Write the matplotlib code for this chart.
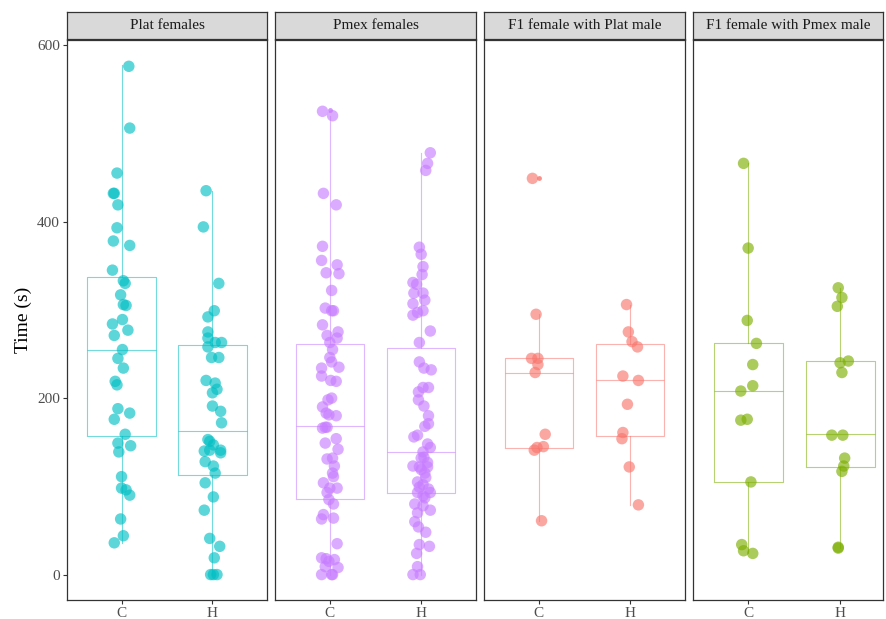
import numpy as np
import matplotlib.pyplot as plt

plt.rcParams['font.family'] = ['Liberation Serif', 'DejaVu Serif']

panels = ["Plat females", "Pmex females", "F1 female with Plat male", "F1 female with Pmex male"]
colors = ["#00BFC4", "#C77CFF", "#F8766D", "#7CAE00"]
treatments = ["C", "H"]

# time (s) per female, with the jitter offset of each point
plat_c = [576, 506, 455, 432, 432, 419, 393, 378, 373, 345, 333, 330, 317, 306, 305, 289, 284,
          277, 271, 255, 245, 234, 219, 215, 188, 183, 176, 159, 149, 146, 139, 111, 98, 96, 90,
          63, 44, 36]
plat_c_jit = [0.08, 0.09, -0.05, -0.09, -0.08, -0.04, -0.05, -0.09, 0.09, -0.10, 0.02, 0.04,
              -0.01, 0.02, 0.05, 0.01, -0.10, 0.07, -0.08, 0.01, -0.04, 0.02, -0.07, -0.05, -0.04,
              0.09, -0.08, 0.04, -0.04, 0.10, -0.03, 0.0, 0.0, 0.05, 0.09, -0.01, 0.02, -0.08]
plat_h = [435, 394, 330, 299, 292, 275, 268, 263, 263, 258, 246, 246, 220, 217, 210, 206, 191,
          185, 172, 153, 151, 147, 141, 140, 141, 138, 128, 123, 115, 104, 88, 73, 41, 32, 19,
          0, 0, 0]
plat_h_jit = [-0.07, -0.10, 0.07, 0.02, -0.05, -0.05, -0.05, 0.03, 0.10, -0.05, -0.01, 0.07,
              -0.07, 0.03, 0.05, 0.0, 0.0, 0.09, 0.10, -0.05, -0.03, 0.01, -0.03, -0.09, 0.09,
              0.09, -0.08, 0.01, 0.03, -0.08, 0.01, -0.09, -0.03, 0.08, 0.02, -0.02, 0.01, 0.05]

pmex_c = [525, 520, 432, 419, 372, 356, 351, 342, 341, 322, 302, 299, 299, 283, 271, 275, 268,
          263, 255, 246, 241, 234, 235, 225, 220, 219, 200, 198, 190, 183, 181, 180, 167, 167,
          166, 149, 154, 142, 131, 132, 123, 115, 111, 104, 98, 98, 93, 85, 80, 68, 63, 64, 35,
          19, 18, 15, 17, 9, 8, 0, 0, 0]
pmex_c_jit = [-0.08, 0.03, -0.07, 0.07, -0.08, -0.09, 0.08, -0.04, 0.10, 0.02, -0.05, 0.02,
              0.04, -0.08, -0.03, 0.09, 0.08, 0.0, 0.03, 0.0, 0.02, -0.09, 0.10, -0.09, 0.01,
              0.07, 0.02, -0.02, -0.08, -0.04, -0.01, 0.07, -0.05, -0.03, -0.08, -0.05, 0.07,
              0.09, -0.03, 0.03, 0.05, 0.03, 0.04, -0.07, 0.0, 0.08, -0.03, -0.01, 0.04, -0.07,
              -0.09, 0.04, 0.08, -0.09, -0.04, -0.01, 0.05, -0.05, 0.09, -0.09, 0.02, 0.03]
pmex_h = [478, 466, 458, 371, 363, 349, 340, 331, 329, 319, 319, 311, 307, 299, 297, 294, 276,
          263, 241, 234, 232, 212, 212, 207, 198, 191, 180, 168, 171, 156, 158, 148, 144, 139,
          133, 127, 123, 122, 122, 115, 105, 102, 97, 93, 93, 89, 80, 78, 73, 70, 60, 54, 48,
          34, 32, 24, 9, 0, 0, 132, 110, 99, 87, 119]
pmex_h_jit = [0.10, 0.07, 0.05, -0.02, 0.0, 0.02, 0.01, -0.09, -0.05, -0.08, 0.02, 0.04, -0.09,
              0.02, -0.04, -0.09, 0.10, -0.02, -0.02, 0.03, 0.11, 0.02, 0.08, -0.03, -0.03, 0.03,
              0.08, 0.04, 0.08, -0.08, -0.04, 0.07, 0.10, 0.02, 0.03, 0.07, -0.09, -0.02, 0.07,
              0.04, -0.04, 0.02, 0.08, 0.10, -0.04, 0.02, -0.07, 0.02, 0.10, -0.04, -0.07, -0.03,
              0.05, -0.02, 0.09, -0.05, -0.04, -0.09, -0.01, 0.0, 0.05, -0.02, 0.04, 0.0]

f1plat_c = [449, 295, 245, 245, 238, 229, 159, 141, 144, 145, 61]
f1plat_c_jit = [-0.07, -0.03, -0.08, -0.01, -0.01, -0.04, 0.07, -0.05, -0.02, 0.05, 0.03]
f1plat_h = [306, 275, 264, 258, 225, 220, 193, 161, 154, 122, 79]
f1plat_h_jit = [-0.04, -0.02, 0.02, 0.08, -0.08, 0.09, -0.03, -0.08, -0.09, -0.01, 0.09]

f1pmex_c = [466, 370, 288, 262, 238, 214, 208, 175, 176, 105, 34, 27, 24]
f1pmex_c_jit = [-0.05, 0.0, -0.01, 0.09, 0.05, 0.05, -0.08, -0.08, -0.01, 0.03, -0.07, -0.05, 0.05]
f1pmex_h = [325, 314, 304, 240, 242, 229, 158, 158, 132, 123, 117, 31, 30]
f1pmex_h_jit = [-0.02, 0.02, -0.03, 0.0, 0.09, 0.02, -0.09, 0.03, 0.05, 0.04, 0.02, -0.02, -0.02]

# box statistics as drawn (q1, median, q3, lower whisker, upper whisker, outliers)
box_q1 = [[157, 113], [86, 93], [144, 157], [105, 122]]
box_med = [[255, 163], [168, 139], [229, 221], [208, 159]]
box_q3 = [[337, 260], [261, 257], [245, 261], [262, 242]]
box_lo = [[36, 0], [0, 0], [61, 79], [24, 30]]
box_hi = [[577, 435], [520, 478], [295, 306], [466, 325]]
box_out = [[[], []], [[526], []], [[449], []], [[], []]]

values = [[plat_c, plat_h], [pmex_c, pmex_h], [f1plat_c, f1plat_h], [f1pmex_c, f1pmex_h]]
jitter = [[plat_c_jit, plat_h_jit], [pmex_c_jit, pmex_h_jit],
          [f1plat_c_jit, f1plat_h_jit], [f1pmex_c_jit, f1pmex_h_jit]]

W, H = 887, 619
fig = plt.figure(figsize=(W / 100, H / 100), dpi=100)

lefts = [67, 275, 484, 693]
widths = [200, 201, 201, 190]
top, bottom = 40, 600
strip_top = 12


def rect(l, t, w, h):
    return [l / W, 1 - (t + h) / H, w / W, h / H]


dark = "#333333"
for i, name in enumerate(panels):
    col = colors[i]
    ax = fig.add_axes(rect(lefts[i], top, widths[i], bottom - top))
    stats = []
    for j in range(2):
        stats.append(dict(q1=box_q1[i][j], med=box_med[i][j], q3=box_q3[i][j],
                          whislo=box_lo[i][j], whishi=box_hi[i][j], fliers=box_out[i][j]))
    ax.bxp(stats, positions=[1, 2], widths=0.75, showcaps=False,
           boxprops=dict(color=col, alpha=0.55, linewidth=0.8),
           whiskerprops=dict(color=col, alpha=0.55, linewidth=0.8),
           medianprops=dict(color=col, alpha=0.55, linewidth=0.8),
           flierprops=dict(marker='o', markersize=3.5, markerfacecolor=col,
                           markeredgecolor='none', alpha=0.8))
    for j in range(2):
        xs = np.array(jitter[i][j]) + j + 1
        ax.scatter(xs, values[i][j], s=68, color=col, alpha=0.64, edgecolors='none', zorder=3)

    ax.set_ylim(-28.8, 605.8)
    if i == 3:
        ax.set_xlim(0.4, 2.467)
    else:
        ax.set_xlim(0.4, 2.6)
    ax.set_xticks([1, 2])
    ax.set_xticklabels(treatments)
    ax.set_yticks([0, 200, 400, 600])
    ax.tick_params(colors=dark, labelcolor="#4D4D4D", length=3, width=0.8, labelsize=11, pad=2)
    if i > 0:
        ax.tick_params(axis='y', left=False, labelleft=False)
    for s in ax.spines.values():
        s.set_color(dark)
        s.set_linewidth(0.9)
    if i == 0:
        ax.set_ylabel("Time (s)", fontsize=14, color="black", labelpad=4)

    sax = fig.add_axes(rect(lefts[i], strip_top, widths[i], top - strip_top - 1))
    sax.set_facecolor("#D9D9D9")
    sax.set_xticks([])
    sax.set_yticks([])
    for s in sax.spines.values():
        s.set_color(dark)
        s.set_linewidth(0.9)
    sax.text(0.5, 0.5, name, transform=sax.transAxes, ha='center', va='center',
             fontsize=11, color="#1A1A1A")

fig.savefig("out.png", dpi=100)
